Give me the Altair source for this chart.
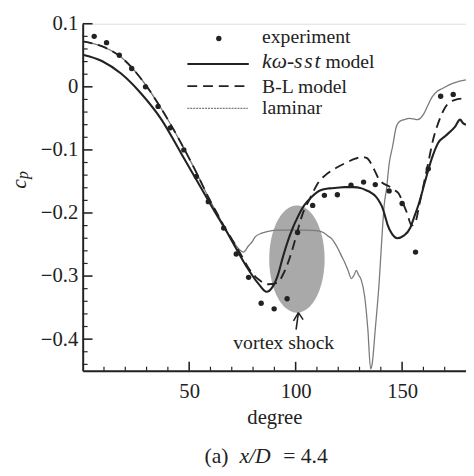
import altair as alt
import numpy as np
import pandas as pd

# ---------------- data ----------------
exp_deg = [5.4, 11.2, 17.2, 23.0, 29.5, 35.4, 41.1, 47.5, 53.4, 59.0, 66.2, 72.1, 77.9, 83.8,
           89.9, 96.0, 100.9, 108.0, 113.5, 119.6, 126.0, 131.9, 137.4, 143.9, 150.0, 156.3,
           162.3, 168.1, 174.0]
exp_cp = [0.080, 0.070, 0.050, 0.029, 0.000, -0.031, -0.065, -0.100, -0.142, -0.182, -0.224,
          -0.265, -0.302, -0.343, -0.352, -0.336, -0.231, -0.188, -0.172, -0.171, -0.156,
          -0.151, -0.155, -0.165, -0.185, -0.262, -0.130, -0.015, -0.012]

sst_deg = [0, 9, 18, 27, 37, 46, 54, 61, 68.7, 76.4, 82.5, 86.4, 89, 91.7, 94, 96.3, 98.5,
           100.9, 104, 107.1, 111.7, 116, 119.3, 123, 127, 131, 133.1, 135.5, 137.7, 139.5,
           140.8, 142, 143.1, 145.4, 147.7, 150.8, 153.9, 155.5, 157.7, 160.7, 163.8, 166.9,
           170.3, 174.9, 177.2, 178.7, 180]
sst_cp = [0.051, 0.041, 0.021, -0.009, -0.052, -0.104, -0.151, -0.192, -0.236, -0.282, -0.312,
          -0.325, -0.318, -0.298, -0.270, -0.245, -0.225, -0.207, -0.188, -0.176, -0.164,
          -0.161, -0.160, -0.159, -0.159, -0.161, -0.164, -0.168, -0.174, -0.183, -0.192,
          -0.205, -0.218, -0.234, -0.240, -0.236, -0.223, -0.208, -0.187, -0.151, -0.115,
          -0.089, -0.078, -0.063, -0.052, -0.058, -0.060]

bl_deg = [0, 9.2, 18.4, 27.6, 36.8, 46, 53.7, 59, 63, 66.5, 70.3, 74, 78, 82.5, 87, 91.7, 94,
          96.3, 98, 100.2, 102, 104, 106, 108, 111, 114, 119.3, 123.9, 128, 131, 133.5, 135.5,
          137, 139, 141, 144, 146, 148.4, 150.5, 152.3, 154.5, 156.5, 158, 160, 162.3, 164.6,
          166.9, 170, 174.5, 180]
bl_cp = [0.072, 0.064, 0.046, 0.012, -0.034, -0.088, -0.138, -0.175, -0.200, -0.222, -0.243,
         -0.264, -0.288, -0.305, -0.313, -0.310, -0.298, -0.280, -0.263, -0.237, -0.215, -0.195,
         -0.182, -0.168, -0.150, -0.140, -0.128, -0.120, -0.114, -0.111, -0.113, -0.122,
         -0.132, -0.146, -0.153, -0.158, -0.163, -0.169, -0.185, -0.200, -0.220, -0.212,
         -0.188, -0.157, -0.120, -0.083, -0.058, -0.034, -0.021, -0.018]

lam_deg = [0, 9.2, 18.4, 27.6, 36.8, 46, 53.7, 59, 63, 66.5, 70.3, 73, 75.5, 77.9, 79.5, 81,
           84.1, 87.1, 91.7, 95, 100, 105, 110, 113, 115, 117, 118.6, 120.1, 121.5, 123, 124.5,
           126.2, 127.5, 128.5, 129.5, 130.8, 132.4, 133.9, 135.2, 135.9, 137.4, 139.3, 140.4,
           141.6, 142.7, 144, 145.5, 147.3, 148.8, 151, 153.4, 155.5, 157.2, 160.3, 162, 164.1,
           166.5, 168.7, 173.4, 177, 180]
lam_cp = [0.072, 0.064, 0.046, 0.012, -0.034, -0.088, -0.138, -0.175, -0.200, -0.222, -0.243,
          -0.256, -0.262, -0.252, -0.246, -0.238, -0.232, -0.229, -0.227, -0.227, -0.227,
          -0.227, -0.228, -0.231, -0.236, -0.241, -0.249, -0.258, -0.268, -0.278, -0.290,
          -0.304, -0.298, -0.291, -0.298, -0.306, -0.332, -0.384, -0.447, -0.440, -0.384,
          -0.306, -0.245, -0.187, -0.161, -0.120, -0.095, -0.063, -0.055, -0.052, -0.050,
          -0.051, -0.052, -0.042, -0.030, -0.016, -0.007, -0.003, 0.005, 0.009, 0.011]

x_tick_labels = [50, 100, 150]
y_tick_labels = [-0.4, -0.3, -0.2, -0.1, 0.0, 0.1]
x_minor = [10, 20, 30, 40, 60, 70, 80, 90, 110, 120, 130, 140, 160, 170]
y_minor = [-0.44, -0.42, -0.38, -0.36, -0.34, -0.32, -0.28, -0.26, -0.24, -0.22, -0.18, -0.16,
           -0.14, -0.12, -0.08, -0.06, -0.04, -0.02, 0.02, 0.04, 0.06, 0.08]

# vortex-shock ellipse (centre, half-widths in data units)
ell_center = (100.6, -0.273)
ell_radius = (13.0, 0.085)

# ---------------- layout ----------------
W, H = 390, 353
SERIF = "Liberation Serif"
INK = "#222222"
xs = alt.Scale(domain=[0, 180], nice=False, zero=False)
ys = alt.Scale(domain=[-0.45, 0.1], nice=False, zero=False)

XAXIS = alt.Axis(values=x_tick_labels, format="d", ticks=False, grid=False,
                 domainColor=INK, domainWidth=2, labelFont=SERIF, labelFontSize=21,
                 labelColor=INK, labelPadding=10, title="degree", titleFont=SERIF,
                 titleFontSize=21, titleFontWeight="normal", titleColor=INK, titlePadding=6)
YAXIS = alt.Axis(values=y_tick_labels, format=".1~f", ticks=False, grid=False,
                 domainColor=INK, domainWidth=2, labelFont=SERIF, labelFontSize=21,
                 labelColor=INK, labelPadding=5, title="")


def X(field="deg"):
    return alt.X(f"{field}:Q", scale=xs, axis=XAXIS)


def Y(field="cp"):
    return alt.Y(f"{field}:Q", scale=ys, axis=YAXIS)


t = np.linspace(np.pi, 0, 80)
ell = pd.DataFrame({
    "deg": ell_center[0] + ell_radius[0] * np.cos(t),
    "cp": ell_center[1] + ell_radius[1] * np.sin(t),
    "bot": ell_center[1] - ell_radius[1] * np.sin(t),
})

ellipse = alt.Chart(ell).mark_area(color="#a9a9a9", opacity=1).encode(
    x=X(), y=Y(), y2="bot:Q")


def line(deg, cp, **kw):
    df = pd.DataFrame({"deg": deg, "cp": cp})
    return alt.Chart(df).mark_line(interpolate="monotone", clip=True, **kw).encode(x=X(), y=Y())


lam = line(lam_deg, lam_cp, color="#7a7a7a", strokeWidth=1.3)
sst = line(sst_deg, sst_cp, color=INK, strokeWidth=2.1)
bl = line(bl_deg, bl_cp, color=INK, strokeWidth=1.9, strokeDash=[10, 6])

pts = alt.Chart(pd.DataFrame({"deg": exp_deg, "cp": exp_cp})).mark_circle(
    color=INK, size=30, opacity=1).encode(x=X(), y=Y())

# inward ticks
xt_minor = alt.Chart(pd.DataFrame({"deg": x_minor})).mark_rule(color=INK, strokeWidth=1.2).encode(
    x=X(), y=alt.value(H), y2=alt.value(H - 4))
xt_major = alt.Chart(pd.DataFrame({"deg": x_tick_labels})).mark_rule(color=INK, strokeWidth=1.6).encode(
    x=X(), y=alt.value(H), y2=alt.value(H - 9))
yt_minor = alt.Chart(pd.DataFrame({"cp": y_minor})).mark_rule(color=INK, strokeWidth=1.2).encode(
    y=Y(), x=alt.value(0), x2=alt.value(5))
yt_major = alt.Chart(pd.DataFrame({"cp": y_tick_labels})).mark_rule(color=INK, strokeWidth=1.6).encode(
    y=Y(), x=alt.value(0), x2=alt.value(10))

# annotation: arrow + text
arrow_df = pd.DataFrame({"deg": [100.2, 99.0, 103.5], "cp": [-0.385, -0.371, -0.369],
                         "deg2": [101.3, 101.3, 101.3], "cp2": [-0.358, -0.358, -0.358]})
arrows = alt.Chart(arrow_df).mark_rule(color=INK, strokeWidth=1.6).encode(
    x=X(), y=Y(), x2="deg2:Q", y2="cp2:Q")
vs_text = alt.Chart(pd.DataFrame({"deg": [94.4], "cp": [-0.406], "t": ["vortex shock"]})).mark_text(
    font=SERIF, fontSize=20, color=INK, align="center", baseline="middle").encode(
    x=X(), y=Y(), text="t:N")

# legend (pixel positions inside the plot)
one = pd.DataFrame({"a": [0]})
leg_dot = alt.Chart(one).mark_circle(color=INK, size=30, opacity=1).encode(
    x=alt.value(138.5), y=alt.value(15))
leg_sst = alt.Chart(one).mark_rule(color=INK, strokeWidth=2.1).encode(
    x=alt.value(106.5), x2=alt.value(169), y=alt.value(41))
leg_bl = alt.Chart(one).mark_rule(color=INK, strokeWidth=1.9, strokeDash=[10, 6]).encode(
    x=alt.value(106.5), x2=alt.value(169), y=alt.value(63.5))
leg_lam = alt.Chart(one).mark_rule(color="#7a7a7a", strokeWidth=1.3, strokeDash=[2, 1]).encode(
    x=alt.value(106.5), x2=alt.value(168), y=alt.value(86))


def ptext(txt, x, y, size=20, style="normal", align="left", baseline="alphabetic", angle=0):
    return alt.Chart(pd.DataFrame({"t": [txt]})).mark_text(
        font=SERIF, fontSize=size, fontStyle=style, color=INK, align=align,
        baseline=baseline, angle=angle).encode(x=alt.value(x), y=alt.value(y), text="t:N")


texts = [
    ptext("experiment", 182.5, 20),
    ptext("kω-s\u200as\u200at", 182.5, 45.5, size=22, style="italic"),
    ptext("model", 247, 45.5),
    ptext("B-L model", 182.5, 70.5),
    ptext("laminar", 182.5, 92),
    # y title c_p (rotated)
    ptext("c", -65, 163, size=22, style="italic", align="center", baseline="middle", angle=270),
    ptext("p", -61, 154, size=16, style="italic", align="center", baseline="middle", angle=270),
    # caption
    ptext("(a)", 124, 447, size=22),
    ptext("x/D", 159.5, 447, size=22, style="italic"),
    ptext("= 4.4", 204, 447, size=22),
]

chart = alt.layer(
    ellipse, lam, bl, sst, pts, xt_minor, xt_major, yt_minor, yt_major, arrows, vs_text,
    leg_dot, leg_sst, leg_bl, leg_lam, *texts
).properties(
    width=W, height=H,
    autosize=alt.AutoSizeParams(type="none"),
    padding={"left": 76, "top": 12, "right": 0, "bottom": 95},
).configure_view(stroke=None).configure(background="white")

chart.save("out.html", embed_options={"renderer": "svg", "actions": False})
